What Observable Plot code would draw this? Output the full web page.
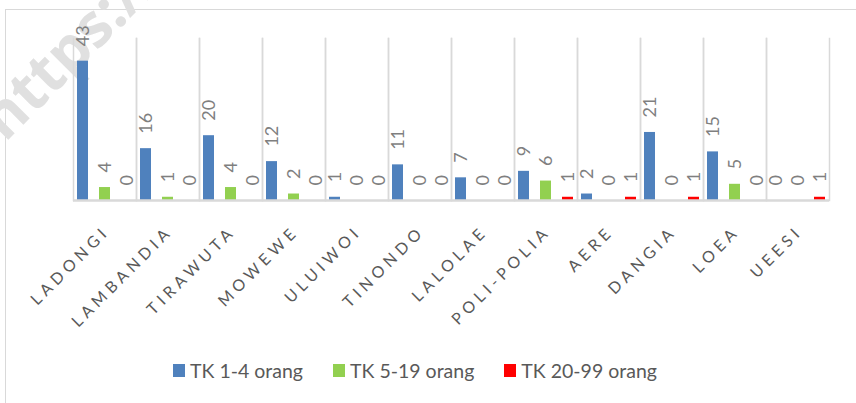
<!DOCTYPE html>
<html><head><meta charset="utf-8">
<script src="https://cdn.jsdelivr.net/npm/d3@7"></script>
<script src="https://cdn.jsdelivr.net/npm/@observablehq/plot@0.6"></script>
<style>
body{margin:0;background:#fff;width:856px;height:403px;overflow:hidden;position:relative;font-family:Lato,sans-serif}
#border{position:absolute;left:5px;top:9px;width:1000px;height:1000px;border:1.5px solid #d9d9d9;box-sizing:border-box}
#wm{position:absolute;left:10px;top:88px;height:60px;font:bold 60px "Open Sans",sans-serif;color:#e0e0e0;transform:rotate(-45deg);transform-origin:0 100%;white-space:nowrap;line-height:60px}
#chart{position:absolute;left:0;top:0}
#legend{position:absolute;top:359px;left:173px;display:flex;align-items:center;font-size:19.5px;color:#595959}
#legend .it{display:flex;align-items:center;margin-right:30px}
#legend .sw{width:12px;height:13px;margin-right:5px}
.cat text{letter-spacing:4.5px}
</style></head>
<body>
<div id="border"></div>
<div id="wm">https://</div>
<div id="chart"></div>
<div id="legend"></div>
<script>
const categories = ["LADONGI","LAMBANDIA","TIRAWUTA","MOWEWE","ULUIWOI","TINONDO","LALOLAE","POLI-POLIA","AERE","DANGIA","LOEA","UEESI"];
const series = ["TK 1-4 orang","TK 5-19 orang","TK 20-99 orang"];
const s1 = [43,16,20,12,1,11,7,9,2,21,15,0];
const s2 = [4,1,4,2,0,0,0,6,0,0,5,0];
const s3 = [0,0,0,0,0,0,0,1,1,1,0,1];
const colors = ["#4f81bd","#92d050","#ff0000"];

const vals = [s1, s2, s3];
const table = categories.flatMap((c, i) => series.map((s, j) => ({cat: c, s, v: vals[j][i]})));

const chart = Plot.plot({
  width: 856, height: 340,
  marginLeft: 73, marginRight: 27, marginTop: 38, marginBottom: 140,
  fx: {domain: categories, padding: 0, label: null, axis: null},
  x: {domain: series, paddingInner: 0.5, paddingOuter: 0.15, axis: null},
  y: {domain: [0, 50], axis: null},
  color: {domain: series, range: colors},
  style: {fontFamily: "Lato, sans-serif", background: "transparent", overflow: "visible"},
  marks: [
    Plot.frame({anchor: "left", stroke: "#d9d9d9", strokeWidth: 1.5}),
    Plot.frame({anchor: "right", stroke: "#d9d9d9", strokeWidth: 1.5}),
    Plot.barY(table, {fx: "cat", x: "s", y: "v", fill: "s"}),
    Plot.ruleY([0], {stroke: "#d9d9d9", strokeWidth: 2.5}),
    Plot.text(table, {fx: "cat", x: "s", y: "v", text: d => String(d.v), rotate: -90, textAnchor: "start", dy: -15, fontSize: 18, fill: "#7f7f7f"}),
    Plot.text(categories, {fx: d => d, text: d => d, frameAnchor: "bottom", rotate: -45, textAnchor: "end", lineAnchor: "bottom", dx: 5.7, dy: 32, fontSize: 16, fill: "#595959", className: "cat"})
  ]
});
document.getElementById("chart").appendChild(chart);

const lg = document.getElementById("legend");
series.forEach((s, j) => {
  const it = document.createElement("div");
  it.className = "it";
  it.innerHTML = `<span class="sw" style="background:${colors[j]}"></span><span>${s}</span>`;
  lg.appendChild(it);
});
</script>
</body></html>
